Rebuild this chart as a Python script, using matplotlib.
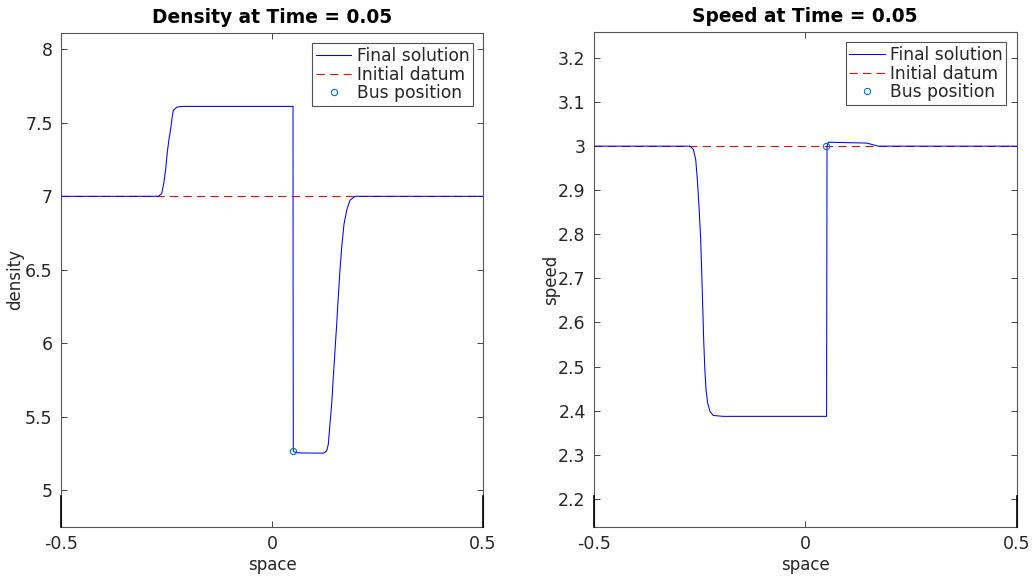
import matplotlib
matplotlib.use("Agg")
import matplotlib.pyplot as plt

plt.rcParams['font.family'] = ['DejaVu Sans']

# ---- data ----
density_x = [-0.5, -0.2694, -0.2614, -0.2559, -0.2519, -0.2481, -0.2441, -0.2400, -0.2370,
             -0.2339, -0.2258, -0.214,
             0.0498, 0.0500, 0.0505, 0.056, 0.07, 0.121, 0.1256, 0.1300, 0.1334, 0.1374, 0.1415,
             0.1453, 0.1493, 0.1533, 0.1571, 0.1611, 0.1652, 0.1706, 0.177, 0.1848, 0.1967, 0.5]
density_y = [7.0, 7.0, 7.018, 7.097, 7.188, 7.30, 7.39, 7.46, 7.53,
             7.585, 7.607, 7.612,
             7.612, 6.44, 5.265, 5.255, 5.252, 5.251, 5.256, 5.27, 5.31, 5.45, 5.59,
             5.77, 5.95, 6.13, 6.315, 6.497, 6.655, 6.81, 6.905, 6.973, 7.0, 7.0]

speed_x = [-0.5, -0.2728, -0.265, -0.2593, -0.2555, -0.2515, -0.2475, -0.2451, -0.2427,
           -0.2404, -0.238, -0.2349, -0.2309, -0.2254, -0.2176, -0.194,
           0.0505, 0.0515, 0.0546, 0.1, 0.1455, 0.1611, 0.1729, 0.5]
speed_y = [3.0, 3.0, 2.993, 2.97, 2.925, 2.864, 2.789, 2.713, 2.637,
           2.561, 2.50, 2.448, 2.417, 2.398, 2.389, 2.387,
           2.387, 3.0, 3.009, 3.008, 3.007, 3.003, 3.0, 3.0]

initial_density = 7.0
initial_speed = 3.0
bus_x = 0.05
bus_density = 5.265
bus_speed = 3.0

x_range = [-0.5, 0.5]
density_ylim = [4.748, 8.112]
speed_ylim = [2.136, 3.259]
density_yticks = [5, 5.5, 6, 6.5, 7, 7.5, 8]
speed_yticks = [2.2, 2.3, 2.4, 2.5, 2.6, 2.7, 2.8, 2.9, 3, 3.1, 3.2]
x_ticks = [-0.5, 0, 0.5]

W, H = 1033, 577
fig = plt.figure(figsize=(W / 100, H / 100), dpi=100)

axc = '#262626'
ax1 = fig.add_axes([61 / W, 1 - 527 / H, 422 / W, 494 / H])
ax2 = fig.add_axes([594 / W, 1 - 527 / H, 422.5 / W, 495 / H])

panels = [
    (ax1, density_x, density_y, initial_density, bus_density, density_ylim, density_yticks,
     'density', 'Density at Time = 0.05', 0.5),
    (ax2, speed_x, speed_y, initial_speed, bus_speed, speed_ylim, speed_yticks,
     'speed', 'Speed at Time = 0.05', -1.5),
]

for ax, xs, ys, init, busy, ylim, yt, ylab, title, lpad in panels:
    h1, = ax.plot(xs, ys, color=(0, 0, 1), lw=0.75, label='Final solution', zorder=3)
    h2, = ax.plot(x_range, [init, init], color=(1, 0, 0), lw=0.75, ls=(0, (8, 5)),
                  label='Initial datum', zorder=2)
    h3, = ax.plot([bus_x], [busy], ls='none', marker='o', ms=4.5, mfc='none',
                  mec=(0, 0.447, 0.741), mew=0.8, label='Bus position', zorder=4)
    ax.set_xlim(x_range)
    ax.set_ylim(ylim)
    ax.set_xticks(x_ticks)
    ax.set_xticklabels(['-0.5', '0', '0.5'])
    ax.set_yticks(yt)
    ax.set_yticklabels([('%g' % v) for v in yt])
    ax.tick_params(direction='in', top=True, right=True, length=4, width=0.6,
                   colors=axc, labelsize=12.5, pad=6)
    for s in ax.spines.values():
        s.set_color('#555555')
        s.set_linewidth(0.8)
    ax.set_xlabel('space', fontsize=12, color=axc, labelpad=2)
    ax.set_ylabel(ylab, fontsize=12, color=axc, labelpad=lpad)
    ax.set_title(title, fontsize=13.4, fontweight='bold', color='black', pad=7)
    leg = ax.legend(handles=[h1, h2, h3], loc='upper right', fontsize=12.3, frameon=True,
                    fancybox=False, handlelength=2.1, handletextpad=0.3, borderpad=0.2,
                    labelspacing=0.05, borderaxespad=0.6)
    leg.get_frame().set_edgecolor(axc)
    leg.get_frame().set_linewidth(0.8)
    for t in leg.get_texts():
        t.set_color(axc)
    # darker bottom segments of the side spines, as in the reference rendering
    ax.axvline(x_range[0], ymin=0, ymax=0.063, color='black', lw=1.2, zorder=5, clip_on=False)
    ax.axvline(x_range[1], ymin=0, ymax=0.063, color='black', lw=1.2, zorder=5, clip_on=False)

fig.savefig('out.png', dpi=100)
